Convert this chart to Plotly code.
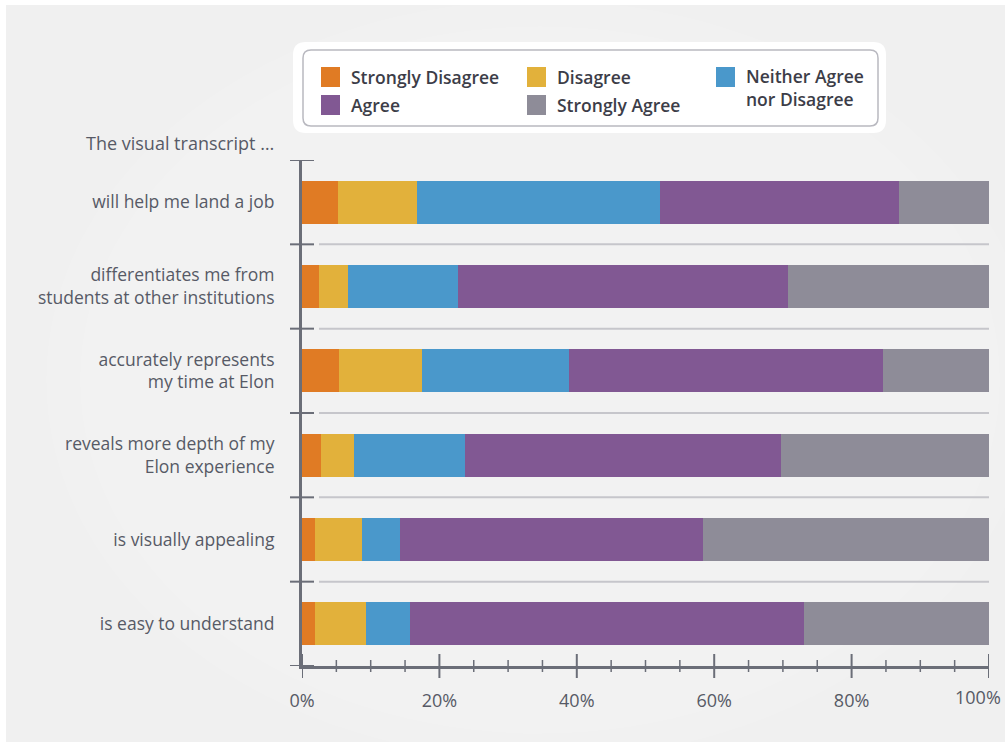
import plotly.graph_objects as go

# Survey statements (top to bottom) and response shares in percent
statements = [
    "will help me land a job",
    "differentiates me from<br>students at other institutions",
    "accurately represents<br>my time at Elon",
    "reveals more depth of my<br>Elon experience",
    "is visually appealing",
    "is easy to understand",
]
strongly_disagree = [5.3, 2.5, 5.4, 2.7, 1.9, 1.9]
disagree = [11.5, 4.2, 12.1, 4.9, 6.9, 7.4]
neither = [35.3, 16.0, 21.4, 16.1, 5.5, 6.4]
agree = [34.8, 48.0, 45.6, 46.0, 44.1, 57.4]
strongly_agree = [13.1, 29.3, 15.5, 30.3, 41.6, 26.9]

series_names = ["Strongly Disagree", "Disagree", "Neither Agree<br>nor Disagree",
                "Agree", "Strongly Agree"]
series_values = [strongly_disagree, disagree, neither, agree, strongly_agree]
series_colors = ["#e07b24", "#e2b13b", "#4a98cb", "#815893", "#8e8c98"]

x_ticks = [0, 20, 40, 60, 80, 100]
x_tick_labels = ["0%", "20%", "40%", "60%", "80%", "100%"]

W, H = 1005, 742
ML, MR, MT, MB = 302, 16, 160, 76
PW, PH = W - ML - MR, H - MT - MB


def px(x):
    return (x - ML) / PW


def py(y):
    return (H - MB - y) / PH


def rounded_rect(x0, y0, x1, y1, r):
    """SVG path (paper coords) for a rectangle with rounded corners, given in pixels."""
    pts = [
        f"M {px(x0 + r)},{py(y0)}",
        f"L {px(x1 - r)},{py(y0)}",
        f"Q {px(x1)},{py(y0)} {px(x1)},{py(y0 + r)}",
        f"L {px(x1)},{py(y1 - r)}",
        f"Q {px(x1)},{py(y1)} {px(x1 - r)},{py(y1)}",
        f"L {px(x0 + r)},{py(y1)}",
        f"Q {px(x0)},{py(y1)} {px(x0)},{py(y1 - r)}",
        f"L {px(x0)},{py(y0 + r)}",
        f"Q {px(x0)},{py(y0)} {px(x0 + r)},{py(y0)}",
        "Z",
    ]
    return " ".join(pts)


AXIS = "#6b6e78"
TEXT = "#575a66"
FONT = "Open Sans"

rows = list(range(len(statements)))

fig = go.Figure()
for name, vals, col in zip(series_names, series_values, series_colors):
    fig.add_trace(go.Bar(
        y=rows, x=vals, orientation="h", name=name.replace("<br>", " "),
        marker=dict(color=col, line=dict(width=0)), width=0.51,
        hovertemplate="%{x:.1f}%<extra>" + name.replace("<br>", " ") + "</extra>",
    ))

shapes = []
# panel background
shapes.append(dict(type="rect", xref="paper", yref="paper", x0=px(6), x1=px(W + 5),
                   y0=py(5), y1=py(H + 5), fillcolor="#f0f0f0", line=dict(width=0),
                   layer="below"))
# soft light glow in the middle of the panel
cx, cy = 540, 380
for i in range(14):
    r = 380 - i * 26
    shapes.append(dict(type="circle", xref="paper", yref="paper",
                       x0=px(cx - r * 1.3), x1=px(cx + r * 1.3), y0=py(cy - r), y1=py(cy + r),
                       fillcolor="rgba(255,255,255,0.07)", line=dict(width=0), layer="below"))

# category separators: short dark tick across the axis plus a light grid line
for i in range(len(statements) + 1):
    yb = i - 0.5
    shapes.append(dict(type="line", xref="paper", yref="y", x0=px(290), x1=px(314),
                       y0=yb, y1=yb, line=dict(color=AXIS, width=2)))
    if 0 < i < len(statements):
        shapes.append(dict(type="line", xref="paper", yref="y", x0=px(319), x1=1,
                           y0=yb, y1=yb, line=dict(color="#c6c6cb", width=2),
                           layer="below"))

# x-axis tick marks crossing the axis line (major every 20%, minor every 5%)
for v in range(0, 101, 5):
    half = 12 if v % 20 == 0 else 6
    shapes.append(dict(type="line", xref="x", yref="paper", x0=v, x1=v,
                       y0=py(666 - half), y1=py(666 + half),
                       line=dict(color=AXIS, width=2 if v % 20 == 0 else 1.5)))

# legend panel
shapes.append(dict(type="path", xref="paper", yref="paper",
                   path=rounded_rect(293, 42, 886, 133, 13),
                   fillcolor="white", line=dict(width=0), layer="below"))
shapes.append(dict(type="path", xref="paper", yref="paper",
                   path=rounded_rect(303, 50, 878, 126, 8),
                   fillcolor="rgba(0,0,0,0)", line=dict(color="#b9b9c0", width=1.5)))

annotations = []
legend_pos = [(321, 77), (527, 77), (716, 77), (321, 105), (527, 105)]
for (lx, ly), name, col in zip(legend_pos, series_names, series_colors):
    shapes.append(dict(type="rect", xref="paper", yref="paper", x0=px(lx), x1=px(lx + 19),
                       y0=py(ly - 10), y1=py(ly + 10), fillcolor=col, line=dict(width=0)))
    multi = "<br>" in name
    annotations.append(dict(xref="paper", yref="paper", x=px(lx + 28),
                            y=py(ly + 11) if multi else py(ly),
                            xanchor="left", yanchor="middle",
                            text=name, showarrow=False, align="left",
                            font=dict(family=FONT, size=17.5, color="#3c3d48", weight=600)))

annotations.append(dict(xref="paper", yref="paper", x=px(276), y=py(143),
                        xanchor="right", yanchor="middle", showarrow=False,
                        text="The visual transcript …",
                        font=dict(family=FONT, size=18, color=TEXT)))
# last x tick label sits slightly inward so it stays inside the panel
annotations.append(dict(xref="x", yref="paper", x=100, y=py(697),
                        xanchor="right", yanchor="middle", xshift=14, showarrow=False,
                        text=x_tick_labels[-1], font=dict(family=FONT, size=18, color=TEXT)))

fig.update_layout(
    width=W, height=H,
    margin=dict(l=ML, r=MR, t=MT, b=MB),
    paper_bgcolor="white", plot_bgcolor="rgba(0,0,0,0)",
    barmode="stack", bargap=0.49, showlegend=False,
    font=dict(family=FONT, size=18, color=TEXT),
    shapes=shapes, annotations=annotations,
    xaxis=dict(range=[0, 100], tickvals=x_ticks[:-1], ticktext=x_tick_labels[:-1],
               showgrid=False, zeroline=False, showline=True, linecolor=AXIS,
               linewidth=3, ticks="", ticklabelstandoff=16,
               tickfont=dict(family=FONT, size=18, color=TEXT)),
    yaxis=dict(range=[5.5, -0.5], tickvals=rows, ticktext=statements,
               showgrid=False, zeroline=False, showline=True, linecolor=AXIS,
               linewidth=3, ticks="", ticklabelstandoff=21,
               tickfont=dict(family=FONT, size=17.5, color=TEXT)),
)

fig.write_html("out.html")
